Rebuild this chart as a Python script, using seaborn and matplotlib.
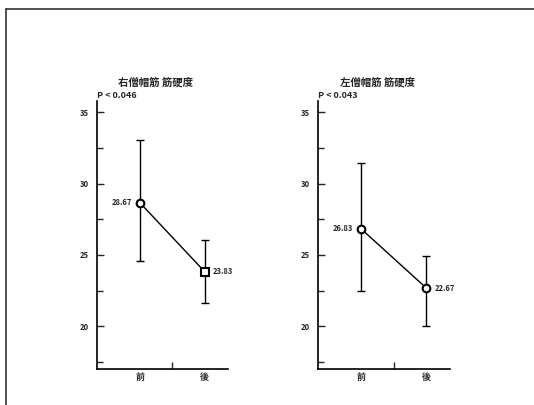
import matplotlib
matplotlib.use("Agg")
from matplotlib import pyplot as plt
from matplotlib.lines import Line2D
import seaborn as sns
import pandas as pd

# data
times = ['前', '後']
titles = ['右僧帽筋 筋硬度', '左僧帽筋 筋硬度']
p_texts = ['P < 0.046', 'P < 0.043']
right_mean = [28.67, 23.83]
right_upper = [33.08, 26.08]
right_lower = [24.55, 21.60]
left_mean = [26.83, 22.67]
left_upper = [31.45, 24.95]
left_lower = [22.50, 20.00]
mean_labels = [['28.67', '23.83'], ['26.83', '22.67']]
markers = [['o', 's'], ['o', 'o']]
yticks = [20, 25, 30, 35]

sns.set_style('ticks')
plt.rcParams['font.family'] = ['Noto Sans CJK JP', 'DejaVu Sans']

fig = plt.figure(figsize=(5.34, 4.05), dpi=100)
fig.patch.set_facecolor('white')

# scan frame (top and left edges)
fig.add_artist(Line2D([6/534, 1], [1-9/405, 1-9/405], color='#333333', lw=1.2))
fig.add_artist(Line2D([6/534, 6/534], [0, 1-9/405], color='#333333', lw=1.2))

panels = [(right_mean, right_upper, right_lower), (left_mean, left_upper, left_lower)]
positions = [[97/534, 36/405, 131/534, 268/405], [318/534, 36/405, 132/534, 268/405]]

for i, (mean, upper, lower) in enumerate(panels):
    ax = fig.add_axes(positions[i])
    df = pd.DataFrame({'x': [0, 1], 'y': mean, 'm': markers[i]})
    sns.lineplot(data=df, x='x', y='y', ax=ax, color='black', lw=1.0)
    yerr = [[m - l for m, l in zip(mean, lower)], [u - m for m, u in zip(mean, upper)]]
    ax.errorbar([0, 1], mean, yerr=yerr, fmt='none', ecolor='black',
                elinewidth=1.0, capsize=3, capthick=1.0)
    for j in range(2):
        ax.plot(j, mean[j], marker=markers[i][j], ms=5.5, mfc='white', mec='black', mew=1.5)
    ax.text(0 - 0.12, mean[0], mean_labels[i][0], ha='right', va='center',
            fontsize=5.5, fontweight='bold')
    ax.text(1 + 0.12, mean[1], mean_labels[i][1], ha='left', va='center',
            fontsize=5.5, fontweight='bold')

    ax.set_xlim(-0.66, 1.36)
    ax.set_ylim(17.0, 35.8)
    ax.set_xticks([0, 1])
    ax.set_xticklabels(times, fontsize=6.5, fontweight='bold')
    ax.set_xticks([0.5], minor=True)
    ax.tick_params(axis='x', which='major', length=0, pad=3)
    ax.tick_params(axis='x', which='minor', direction='in', length=5, width=1)
    ax.set_yticks(yticks)
    ax.set_yticklabels([str(t) for t in yticks], fontsize=5.5, fontweight='bold')
    ax.set_yticks([17.5, 22.5, 27.5, 32.5], minor=True)
    ax.tick_params(axis='y', which='major', direction='in', length=5, width=1, pad=6)
    ax.tick_params(axis='y', which='minor', direction='in', length=4, width=1)
    ax.set_xlabel('')
    ax.set_ylabel('')
    sns.despine(ax=ax)
    for s in ['left', 'bottom']:
        ax.spines[s].set_linewidth(1.2)
        ax.spines[s].set_color('black')
    ax.set_facecolor('white')
    ax.text(0.0, 1.005, p_texts[i], transform=ax.transAxes, ha='left', va='bottom',
            fontsize=6.5, fontweight='bold')
    ax.text(0.45, 1.05, titles[i], transform=ax.transAxes, ha='center', va='bottom',
            fontsize=7.5, fontweight='bold')

fig.savefig('out.png', dpi=100)
